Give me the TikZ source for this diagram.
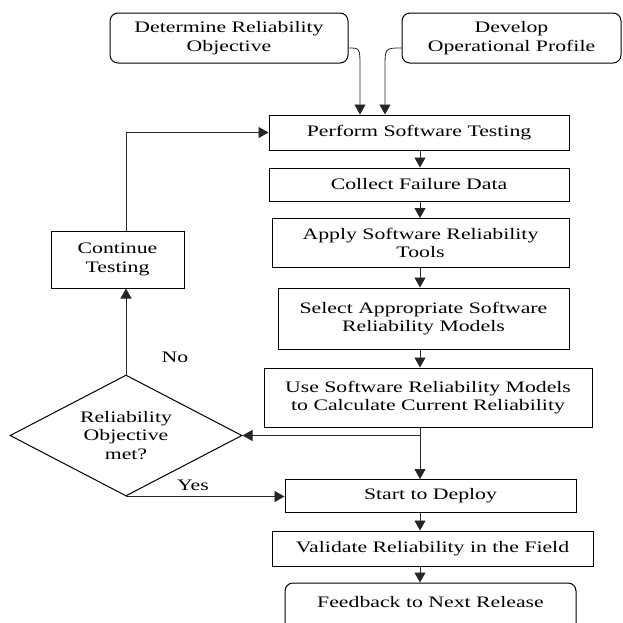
\documentclass[tikz,border=0pt]{standalone}
\usepackage{fontspec}
\setmainfont{Liberation Serif}[FakeStretch=1.36]
\usetikzlibrary{shapes.geometric,arrows.meta,calc}

\begin{document}
\begin{tikzpicture}[x=1pt,y=-1pt,
  font=\fontsize{16}{18.5}\selectfont,
  box/.style={draw, line width=1pt, align=center, inner sep=0pt},
  rbox/.style={box, rounded corners=8pt},
  flow/.style={draw=black!85, line width=0.8pt, -{Triangle[length=10pt,width=11pt]}}]
\clip (0,0) rectangle (623,622);
\coordinate (colx) at (420,0);
\coordinate (inl) at (360,0);
\coordinate (inr) at (385,0);

% top inputs
\node[rbox, minimum width=238pt, minimum height=50pt] (obj) at (229,38) {Determine Reliability\\Objective};
\node[rbox, minimum width=219pt, minimum height=50pt] (prof) at (511.5,38) {Develop\\Operational Profile};

% main column
\node[box, minimum width=300pt, minimum height=35pt] (perform) at (419,132.5) {Perform Software Testing};
\node[box, minimum width=300pt, minimum height=33pt] (collect) at (419,184.5) {Collect Failure Data};
\node[box, minimum width=297pt, minimum height=49pt] (apply) at (420.5,243) {Apply Software Reliability\\Tools};
\node[box, minimum width=291pt, minimum height=61pt] (select) at (423.5,318.5) {Select Appropriate Software\\Reliability Models};
\node[box, minimum width=328pt, minimum height=59pt] (use) at (428,397.5) {Use Software Reliability Models\\to Calculate Current Reliability};
\node[box, minimum width=291pt, minimum height=33pt] (deploy) at (430.5,496) {Start to Deploy};
\node[box, minimum width=321pt, minimum height=35pt] (valid) at (432.5,548.5) {Validate Reliability in the Field};
\node[rbox, minimum width=291pt, minimum height=52pt, text depth=14pt] (feed) at (430.5,609) {Feedback to Next Release};

% decision and loop back
\node[box, diamond, aspect=1.92, minimum width=232pt, minimum height=121pt] (dia) at (126,435.5) {Reliability\\Objective\\met?};
\node[box, minimum width=133pt, minimum height=57pt] (cont) at (117.5,259.5) {Continue\\Testing};
\node (yes) at (193,485) {Yes};
\node (no) at (175,357) {No};

\draw[flow] ([yshift=-10pt]obj.east) .. controls (360,48) .. (360,68) -- (perform.north -| inl);
\draw[flow] ([yshift=-10pt]prof.west) .. controls (385,48) .. (385,68) -- (perform.north -| inr);

\draw[flow] (perform.south -| colx) -- (collect.north -| colx);
\draw[flow] (collect.south -| colx) -- (apply.north -| colx);
\draw[flow] (apply.south -| colx) -- (select.north -| colx);
\draw[flow] (select.south -| colx) -- (use.north -| colx);
\draw[flow] (use.south -| colx) -- (deploy.north -| colx);
\draw[flow] (deploy.south -| colx) -- (valid.north -| colx);
\draw[flow] (valid.south -| colx) -- (feed.north -| colx);

\draw[flow] (use.south -| colx) |- (dia.east);
\draw[flow] (dia.south) -- (dia.south -| deploy.west);
\draw[flow] (dia.north) -- (dia.north |- cont.south);
\draw[flow] (dia.north |- cont.north) |- (perform.west);
\end{tikzpicture}
\end{document}
